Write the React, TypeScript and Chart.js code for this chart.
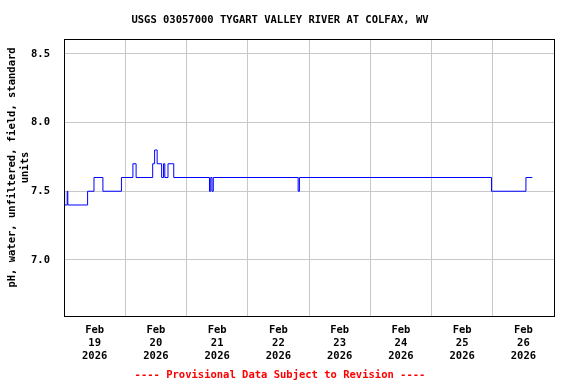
import { useEffect, useRef } from 'react';
import { Chart, registerables } from 'chart.js';

Chart.register(...registerables);

const TITLE = 'USGS 03057000 TYGART VALLEY RIVER AT COLFAX, WV';
const Y_TITLE = ['pH, water, unfiltered, field, standard', 'units'];
const FOOTER = '---- Provisional Data Subject to Revision ----';

// hours since Feb 19 2026 00:00
const hours = [0, 0.25, 1.25, 1.5, 9.25, 11.75, 15.25, 22.5, 27, 28.25, 34.75, 35.5, 36.5, 38.25, 39, 39.5, 40.75, 43, 57, 57.5, 58, 58.5, 91.75, 92.25, 167.5, 181, 183.5];
const phValues = [7.5, 7.4, 7.5, 7.4, 7.5, 7.6, 7.5, 7.6, 7.7, 7.6, 7.7, 7.8, 7.7, 7.6, 7.7, 7.6, 7.7, 7.6, 7.5, 7.6, 7.5, 7.6, 7.5, 7.6, 7.5, 7.6, 7.6];

const monthLabel = 'Feb';
const dayNumbers = ['19', '20', '21', '22', '23', '24', '25', '26'];
const yearLabel = '2026';
const yTicks = [7.0, 7.5, 8.0, 8.5];

const FONT = "'DejaVu Sans Mono', 'Liberation Mono', monospace";
const FS = 10.5;

const framePlugin = {
  id: 'frame',
  afterDatasetsDraw(chart: any) {
    const { ctx, chartArea } = chart;
    const l = Math.round(chartArea.left);
    const t = Math.round(chartArea.top);
    const r = Math.round(chartArea.right);
    const b = Math.round(chartArea.bottom);
    ctx.save();
    ctx.strokeStyle = '#000000';
    ctx.lineWidth = 1;
    ctx.strokeRect(l + 0.5, t + 0.5, r - l, b - t);
    ctx.restore();
  },
};

const yTitlePlugin = {
  id: 'yTitle',
  afterDraw(chart: any) {
    const { ctx } = chart;
    ctx.save();
    ctx.font = `bold ${FS}px ${FONT}`;
    ctx.fillStyle = '#000000';
    ctx.textAlign = 'center';
    ctx.textBaseline = 'middle';
    Y_TITLE.forEach((line, i) => {
      ctx.save();
      ctx.translate(12 + i * 13, 167.5);
      ctx.rotate(-Math.PI / 2);
      ctx.fillText(line, 0, 0);
      ctx.restore();
    });
    ctx.restore();
  },
};

export default function App() {
  const ref = useRef<HTMLCanvasElement | null>(null);

  useEffect(() => {
    if (!ref.current) return;
    const days = dayNumbers.length;
    const chart = new Chart(ref.current, {
      type: 'line',
      data: {
        datasets: [
          {
            data: hours.map((h, i) => ({ x: h, y: phValues[i] })),
            borderColor: '#0000ff',
            borderWidth: 1,
            pointRadius: 0,
            stepped: true,
            fill: false,
          },
        ],
      },
      options: {
        animation: false,
        responsive: false,
        layout: { padding: { left: 6, right: 22, top: 0, bottom: 0 } },
        plugins: {
          legend: { display: false },
          tooltip: { enabled: false },
          title: {
            display: true,
            text: TITLE,
            color: '#000000',
            font: { family: FONT, size: FS, weight: 'bold', lineHeight: 1.2 },
            padding: { top: 13.7, bottom: 12.7 },
          },
          subtitle: {
            display: true,
            position: 'bottom',
            text: FOOTER,
            color: '#ff0000',
            font: { family: FONT, size: FS, weight: 'bold', lineHeight: 1.2 },
            padding: { top: 4, bottom: 2.7 },
          },
        },
        scales: {
          x: {
            type: 'linear',
            min: 0,
            max: days * 24,
            afterBuildTicks: (scale: any) => {
              const t = [];
              for (let h = 0; h <= days * 24; h += 12) t.push({ value: h });
              scale.ticks = t;
            },
            afterFit: (scale: any) => {
              scale.height = 48.7;
            },
            border: { display: false },
            grid: {
              drawTicks: false,
              lineWidth: 1,
              color: (ctx: any) =>
                ctx.tick && ctx.tick.value % 24 === 0 ? '#c8c8c8' : 'rgba(0,0,0,0)',
            },
            ticks: {
              autoSkip: false,
              maxRotation: 0,
              minRotation: 0,
              padding: 7.5,
              color: '#000000',
              font: { family: FONT, size: FS, weight: 'bold', lineHeight: 13 / FS },
              callback: (v: any) => {
                const n = Number(v);
                if (n % 24 !== 12) return '';
                const d = Math.floor(n / 24);
                return [monthLabel, dayNumbers[d], yearLabel];
              },
            },
          },
          y: {
            type: 'linear',
            min: 6.5925,
            max: 8.6075,
            afterBuildTicks: (scale: any) => {
              scale.ticks = yTicks.map((v) => ({ value: v }));
            },
            afterFit: (scale: any) => {
              scale.width = 58;
            },
            border: { display: false },
            grid: { drawTicks: false, color: '#c8c8c8', lineWidth: 1 },
            ticks: {
              padding: 14,
              color: '#000000',
              font: { family: FONT, size: FS, weight: 'bold' },
              callback: (v: any) => Number(v).toFixed(1),
            },
            title: { display: false },
          },
        },
      },
      plugins: [framePlugin, yTitlePlugin],
    } as any);
    return () => chart.destroy();
  }, []);

  return (
    <div style={{ position: 'absolute', left: 0, top: 0, width: 576, height: 384, background: '#ffffff' }}>
      <canvas ref={ref} width={576} height={384} style={{ display: 'block' }} />
    </div>
  );
}
